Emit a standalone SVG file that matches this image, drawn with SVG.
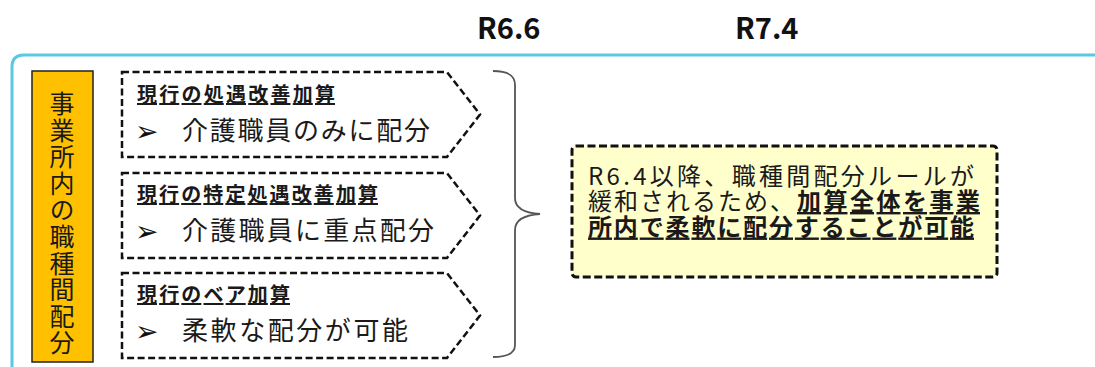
<svg xmlns="http://www.w3.org/2000/svg" width="1095" height="367" viewBox="0 0 1095 367">
<style>
.jp{font-family:'Noto Sans CJK JP','Noto Sans',sans-serif;fill:#1a1a1a}
.hdr{font-family:'Noto Sans CJK JP','Liberation Sans',sans-serif;font-weight:bold;font-size:29px;fill:#111}
.ttl{font-size:20px;font-weight:bold;text-decoration:underline}
.itm{font-size:26px}
.bul{font-family:'DejaVu Sans',sans-serif;font-size:28px;fill:#111}
.pent{fill:#fff;stroke:#111;stroke-width:2.5;stroke-dasharray:7 3.5}
.yt{font-size:24px}
.b{font-weight:bold;text-decoration:underline}
</style>
<rect width="1095" height="367" fill="#fff"/>
<text class="hdr" x="477" y="39">R6.6</text>
<text class="hdr" x="735" y="39">R7.4</text>
<path d="M12,367 V67 Q12,55 24,55 H1095" fill="none" stroke="#5BC8E2" stroke-width="3"/>
<g id="side">
<rect x="32" y="71" width="61" height="291" fill="#FFC000" stroke="#222" stroke-width="1.5"/>
<text class="jp" font-size="25" x="62" y="91" writing-mode="vertical-rl" letter-spacing="1.6">事業所内の職種間配分</text>
</g>
<g id="box1">
<path class="pent" d="M122,72 H447 L480,114.5 L447,157 H122 Z"/>
<text class="jp ttl" x="137" y="102" textLength="198" lengthAdjust="spacing">現行の処遇改善加算</text>
<text class="bul" x="135" y="141">➢</text>
<text class="jp itm" x="182" y="140" textLength="248" lengthAdjust="spacing">介護職員のみに配分</text>
</g>
<g id="box2">
<path class="pent" d="M122,173 H447 L480,215.5 L447,258 H122 Z"/>
<text class="jp ttl" x="137" y="202" textLength="241" lengthAdjust="spacing">現行の特定処遇改善加算</text>
<text class="bul" x="135" y="241">➢</text>
<text class="jp itm" x="182" y="240" textLength="252" lengthAdjust="spacing">介護職員に重点配分</text>
</g>
<g id="box3">
<path class="pent" d="M122,273 H447 L480,315.5 L447,358 H122 Z"/>
<text class="jp ttl" x="137" y="302" textLength="153" lengthAdjust="spacing">現行のベア加算</text>
<text class="bul" x="135" y="341">➢</text>
<text class="jp itm" x="182" y="340" textLength="226" lengthAdjust="spacing">柔軟な配分が可能</text>
</g>
<g id="connectors">
<path d="M493,71 C506,71 515,74 515,85 V198 C515,208 525,213 540,214 C525,215 515,220 515,230 V345 C515,354 506,357 493,357" fill="none" stroke="#555" stroke-width="1.8"/>
</g>
<g id="result">
<rect x="572" y="146" width="425" height="131" rx="4" fill="#FFFFCC" stroke="#111" stroke-width="3" stroke-dasharray="8 3.5"/>
<text class="jp yt" x="588" y="184.5" textLength="386" lengthAdjust="spacing">R6.4以降、職種間配分ルールが</text>
<text class="jp yt" x="588" y="210" textLength="206" lengthAdjust="spacing">緩和されるため、</text>
<text class="jp yt b" x="797" y="210" textLength="183" lengthAdjust="spacing">加算全体を事業</text>
<text class="jp yt b" x="588" y="235.5" textLength="386" lengthAdjust="spacing">所内で柔軟に配分することが可能</text>
</g>
</svg>
